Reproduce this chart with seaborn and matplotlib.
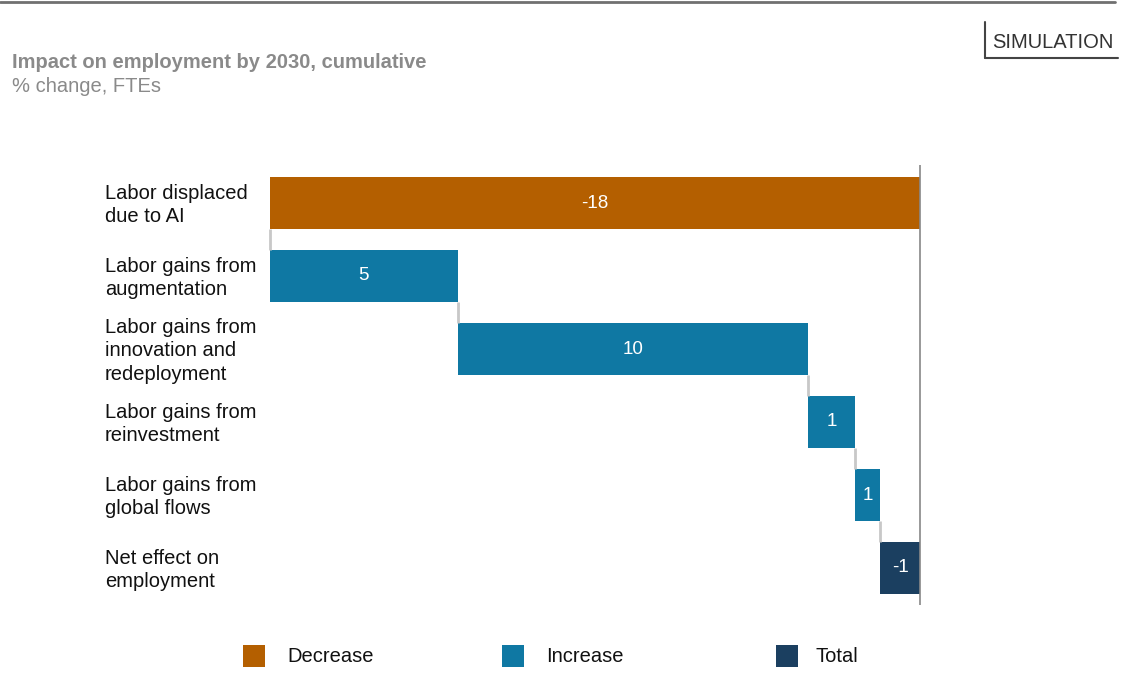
import matplotlib
matplotlib.use("Agg")
import matplotlib.pyplot as plt
import seaborn as sns
import pandas as pd
import numpy as np
from matplotlib.patches import Rectangle
from matplotlib.lines import Line2D

# ---- data ----
categories = [
    "Labor displaced\ndue to AI",
    "Labor gains from\naugmentation",
    "Labor gains from\ninnovation and\nredeployment",
    "Labor gains from\nreinvestment",
    "Labor gains from\nglobal flows",
    "Net effect on\nemployment",
]
step_values = [-18.0, 5.2, 9.7, 1.3, 0.7]
kinds = ["Decrease", "Increase", "Increase", "Increase", "Increase", "Total"]
legend_labels = ["Decrease", "Increase", "Total"]
colors = {"Decrease": "#B45F00", "Increase": "#0F78A3", "Total": "#1B3F60"}

# ---- waterfall computation ----
starts, ends = [], []
cum = 0.0
for v in step_values:
    starts.append(cum)
    cum += v
    ends.append(cum)
net = cum
starts.append(net)
ends.append(0.0)
widths = [e - s for s, e in zip(starts, ends)]
shown = step_values + [net]
value_labels = [f"{round(v):d}" for v in shown]

df = pd.DataFrame({"category": categories, "width": widths, "kind": kinds})

sns.set_theme(style="white")
plt.rcParams["font.family"] = ["Liberation Sans", "DejaVu Sans"]

W, H = 1122, 688
fig = plt.figure(figsize=(W / 100, H / 100), dpi=100)
fig.patch.set_facecolor("white")

# axes placement in pixels
ax_left, ax_right, ax_top, ax_bottom = 265, 925, 165, 605
ax = fig.add_axes([ax_left / W, 1 - ax_bottom / H, (ax_right - ax_left) / W, (ax_bottom - ax_top) / H])

sns.barplot(data=df, x="width", y="category", hue="kind", palette=colors,
            orient="h", dodge=False, width=0.71, legend=False, ax=ax, saturation=1)

# shift bars to waterfall positions
rects = [p for p in ax.patches if isinstance(p, Rectangle) and p.get_height() > 0]
for p in rects:
    yc = p.get_y() + p.get_height() / 2
    i = int(round(yc))
    p.set_x(starts[i])
    p.set_width(widths[i])
    p.set_edgecolor("none")

px_per_unit = 650 / 18
ax.set_xlim(-18 - 5 / px_per_unit, 5 / px_per_unit)
ax.set_ylim(5 + 37 / 73, -38 / 73)

half = 0.71 / 2
# connectors
for i in range(len(categories) - 1):
    x = ends[i]
    ax.plot([x, x], [i + half, i + 1 - half], color="#c8c8c8", lw=2, zorder=1, solid_capstyle="butt")

# zero line
ax.axvline(0, color="#888888", lw=1.2, zorder=3)

# value labels
for i, lab in enumerate(value_labels):
    ax.text((starts[i] + ends[i]) / 2, i, lab, ha="center", va="center",
            color="white", fontsize=13.5)

for s in ax.spines.values():
    s.set_visible(False)
ax.set_xticks([])
ax.set_yticks([])
ax.set_xlabel("")
ax.set_ylabel("")
ax.set_facecolor("white")

# category labels
for i, c in enumerate(categories):
    y_px = ax_top + (i + 38 / 73) * 73 + 2
    fig.text(105 / W, 1 - y_px / H, c, ha="left", va="center", fontsize=14.5,
             color="#111111", linespacing=1.33)

# top rule
fig.add_artist(Line2D([0, 1115 / W], [1 - 2 / H, 1 - 2 / H], color="#707070", lw=2))

# title
fig.text(12 / W, 1 - 63 / H, "Impact on employment by 2030, cumulative", fontsize=14.5,
         fontweight="bold", color="#8a8a8a", ha="left", va="center")
fig.text(12 / W, 1 - 87 / H, "% change, FTEs", fontsize=14.5, color="#8a8a8a",
         ha="left", va="center")

# SIMULATION tag
fig.text(992 / W, 1 - 42 / H, "SIMULATION", fontsize=14.5, color="#333333",
         ha="left", va="center")
fig.add_artist(Line2D([985 / W, 985 / W], [1 - 22 / H, 1 - 58 / H], color="#444444", lw=1.5))
fig.add_artist(Line2D([985 / W, 1118 / W], [1 - 58 / H, 1 - 58 / H], color="#444444", lw=1.5))

# legend
leg_pos = [(243, 287), (502, 546), (776, 815)]
for (sx, tx), lab in zip(leg_pos, legend_labels):
    fig.add_artist(Rectangle((sx / W, 1 - 667 / H), 22 / W, 22 / H,
                             facecolor=colors[lab], edgecolor="none", transform=fig.transFigure))
    fig.text(tx / W, 1 - 656 / H, lab, fontsize=14.5, color="#111111", ha="left", va="center")

fig.savefig("out.png", dpi=100)
